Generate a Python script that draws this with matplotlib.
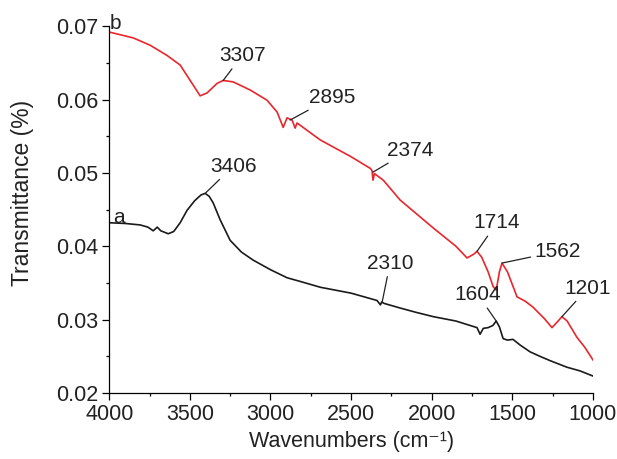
import matplotlib
matplotlib.use("Agg")
import matplotlib.pyplot as plt
from matplotlib.ticker import MultipleLocator

plt.rcParams['font.family'] = ['Liberation Sans', 'DejaVu Sans']

# curve a (black)
wave_a = [4000, 3900, 3808, 3760, 3727, 3702, 3680, 3634, 3600, 3560, 3517, 3470, 3430, 3405,
          3380, 3355, 3312, 3250, 3180, 3107, 3000, 2897, 2816, 2690, 2500, 2339, 2318, 2310,
          2295, 2200, 2100, 1991, 1850, 1719, 1700, 1680, 1650, 1620, 1600, 1580, 1557, 1530,
          1496, 1450, 1390, 1330, 1266, 1161, 1080, 1000]
trans_a = [0.0432, 0.0431, 0.0429, 0.0426, 0.0421, 0.0426, 0.0421, 0.0417, 0.0420, 0.0432,
           0.0449, 0.0462, 0.0470, 0.0472, 0.0468, 0.0459, 0.0436, 0.0408, 0.0392, 0.0381,
           0.0368, 0.0357, 0.0352, 0.0344, 0.0336, 0.0326, 0.0320, 0.0324, 0.0322, 0.0316,
           0.0310, 0.0304, 0.0298, 0.0289, 0.0280, 0.0288, 0.0289, 0.0292, 0.0298, 0.0290,
           0.0274, 0.0272, 0.0273, 0.0265, 0.0256, 0.0250, 0.0244, 0.0235, 0.0230, 0.0223]

# curve b (red)
wave_b = [4000, 3851, 3746, 3641, 3560, 3498, 3436, 3393, 3331, 3293, 3231, 3126, 3021, 2959,
          2921, 2897, 2866, 2847, 2835, 2692, 2500, 2380, 2370, 2364, 2355, 2300, 2196, 1991,
          1850, 1781, 1740, 1719, 1690, 1650, 1619, 1600, 1580, 1564, 1530, 1471, 1420, 1372,
          1300, 1254, 1220, 1192, 1160, 1100, 1050, 1000]
trans_b = [0.0692, 0.0684, 0.0674, 0.0660, 0.0647, 0.0626, 0.0605, 0.0609, 0.0622, 0.0626,
           0.0624, 0.0613, 0.0599, 0.0583, 0.0562, 0.0575, 0.0572, 0.0561, 0.0568, 0.0545,
           0.0522, 0.0506, 0.0503, 0.0490, 0.0499, 0.0490, 0.0463, 0.0425, 0.0400, 0.0384,
           0.0389, 0.0393, 0.0385, 0.0365, 0.0345, 0.0340, 0.0365, 0.0377, 0.0365, 0.0331,
           0.0325, 0.0317, 0.0301, 0.0289, 0.0297, 0.0304, 0.0298, 0.0276, 0.0262, 0.0245]

# peak labels: text, point (wavenumber, value), text position
peak_labels = ['3307', '2895', '2374', '3406', '2310', '1714', '1562', '1604', '1201']
peak_xy = [(3293, 0.0626), (2878, 0.0572), (2364, 0.0501), (3405, 0.0472), (2308, 0.0323),
           (1719, 0.0393), (1564, 0.0377), (1600, 0.0298), (1192, 0.0304)]
label_xy = [(3176, 0.0660), (2618, 0.0603), (2134, 0.0531), (3231, 0.0509), (2258, 0.0377),
            (1595, 0.0432), (1217, 0.0393), (1713, 0.0334), (1031, 0.0343)]

fig = plt.figure(figsize=(6.17, 4.59), dpi=100)
ax = fig.add_axes([0.177, 0.144, 0.784, 0.799])

ax.plot(wave_a, trans_a, color='#1a1a1a', lw=1.2)
ax.plot(wave_b, trans_b, color='#e8262b', lw=1.2)

for lab, xy, xyt in zip(peak_labels, peak_xy, label_xy):
    ax.annotate(lab, xy=xy, xytext=xyt, ha='center', va='center', fontsize=15,
                color='#222222', annotation_clip=False,
                arrowprops=dict(arrowstyle='-', color='#222222', lw=0.9,
                                shrinkA=1, shrinkB=0))

ax.text(3940, 0.0439, 'a', fontsize=15, color='#222222', ha='center', va='center')
ax.text(3960, 0.0704, 'b', fontsize=15, color='#222222', ha='center', va='center')

ax.set_xlim(4000, 1000)
ax.set_ylim(0.02, 0.07)
ax.xaxis.set_major_locator(MultipleLocator(500))
ax.xaxis.set_minor_locator(MultipleLocator(250))
ax.yaxis.set_major_locator(MultipleLocator(0.01))
ax.yaxis.set_minor_locator(MultipleLocator(0.005))
ax.set_yticks([0.02, 0.03, 0.04, 0.05, 0.06, 0.07])
ax.set_yticklabels(['0.02', '0.03', '0.04', '0.05', '0.06', '0.07'])

ax.spines['top'].set_visible(False)
ax.spines['right'].set_visible(False)
for s in ['left', 'bottom']:
    ax.spines[s].set_linewidth(0.9)
ax.tick_params(which='major', direction='out', length=5, width=0.9, labelsize=15.5,
               labelcolor='#222222', pad=3)
ax.tick_params(which='minor', direction='out', length=2.5, width=0.9)

ax.set_xlabel('Wavenumbers (cm\u207b\u00b9)', fontsize=15.5, color='#222222', labelpad=4)
ax.set_ylabel('Transmittance (%)', fontsize=16.5, color='#222222')
ax.yaxis.set_label_coords(-0.155, 0.545)

fig.savefig('out.png', dpi=100)
